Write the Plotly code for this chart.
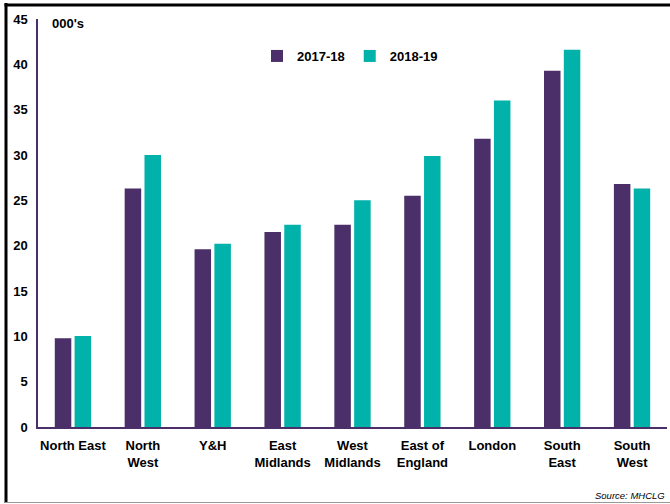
import plotly.graph_objects as go

regions = ["North East", "North<br>West", "Y&H", "East<br>Midlands", "West<br>Midlands",
           "East of<br>England", "London", "South<br>East", "South<br>West"]
series_names = ["2017-18", "2018-19"]
values_2017_18 = [9.8, 26.3, 19.6, 21.5, 22.3, 25.5, 31.8, 39.3, 26.8]
values_2018_19 = [10.05, 30.0, 20.2, 22.3, 25.0, 29.9, 36.0, 41.6, 26.3]
y_ticks = [0, 5, 10, 15, 20, 25, 30, 35, 40, 45]

purple = "#4B2F69"
teal = "#00B2A9"

W, H = 670, 504
L, R, T, B = 38, 3, 19, 77
pw, ph = W - L - R, H - T - B

def px_x(x):
    return (x - L) / pw

def px_y(y):
    return (H - B - y) / ph

font = dict(family="Liberation Sans, Arial, sans-serif", size=13, color="black", weight="bold")

fig = go.Figure()
fig.add_trace(go.Bar(x=regions, y=values_2017_18, name=series_names[0],
                     marker=dict(color=purple, line=dict(width=0))))
fig.add_trace(go.Bar(x=regions, y=values_2018_19, name=series_names[1],
                     marker=dict(color=teal, line=dict(width=0))))

fig.update_layout(
    width=W, height=H,
    margin=dict(l=L, r=R, t=T, b=B, autoexpand=False),
    paper_bgcolor="white", plot_bgcolor="white",
    barmode="group", bargap=0.433, bargroupgap=0.167,
    font=font,
    showlegend=True,
    legend=dict(orientation="h", x=px_x(350), xanchor="center", y=px_y(56), yanchor="middle",
                font=font, itemwidth=30,
                bgcolor="rgba(0,0,0,0)", tracegroupgap=0, itemclick=False),
    xaxis=dict(showline=True, linecolor=purple, linewidth=1.5, ticks="", showgrid=False,
               tickfont=font, zeroline=False, ticklabelstandoff=6),
    yaxis=dict(range=[0, 45], tickvals=y_ticks, showline=True, linecolor=purple, linewidth=1.5,
               ticks="", showgrid=False, zeroline=False, tickfont=font, ticklabelstandoff=6),
)

fig.add_annotation(text="000's", xref="paper", yref="paper", x=px_x(50), y=px_y(24),
                   xanchor="left", yanchor="middle", showarrow=False, font=font)
fig.add_annotation(text="Source: MHCLG", xref="paper", yref="paper", x=px_x(667), y=px_y(495),
                   xanchor="right", yanchor="middle", showarrow=False,
                   font=dict(family="Liberation Sans, Arial, sans-serif", size=9.5, color="black",
                             style="italic", weight="normal"))

# frame
fig.add_shape(type="line", xref="paper", yref="paper", x0=px_x(6), x1=px_x(6),
              y0=px_y(3), y1=px_y(503), line=dict(color="black", width=3))
fig.add_shape(type="line", xref="paper", yref="paper", x0=px_x(4.5), x1=px_x(670),
              y0=px_y(5), y1=px_y(5), line=dict(color="black", width=3))
fig.add_shape(type="line", xref="paper", yref="paper", x0=px_x(5), x1=px_x(670),
              y0=px_y(502.5), y1=px_y(502.5), line=dict(color="#999999", width=1))

fig.write_html("out.html")
